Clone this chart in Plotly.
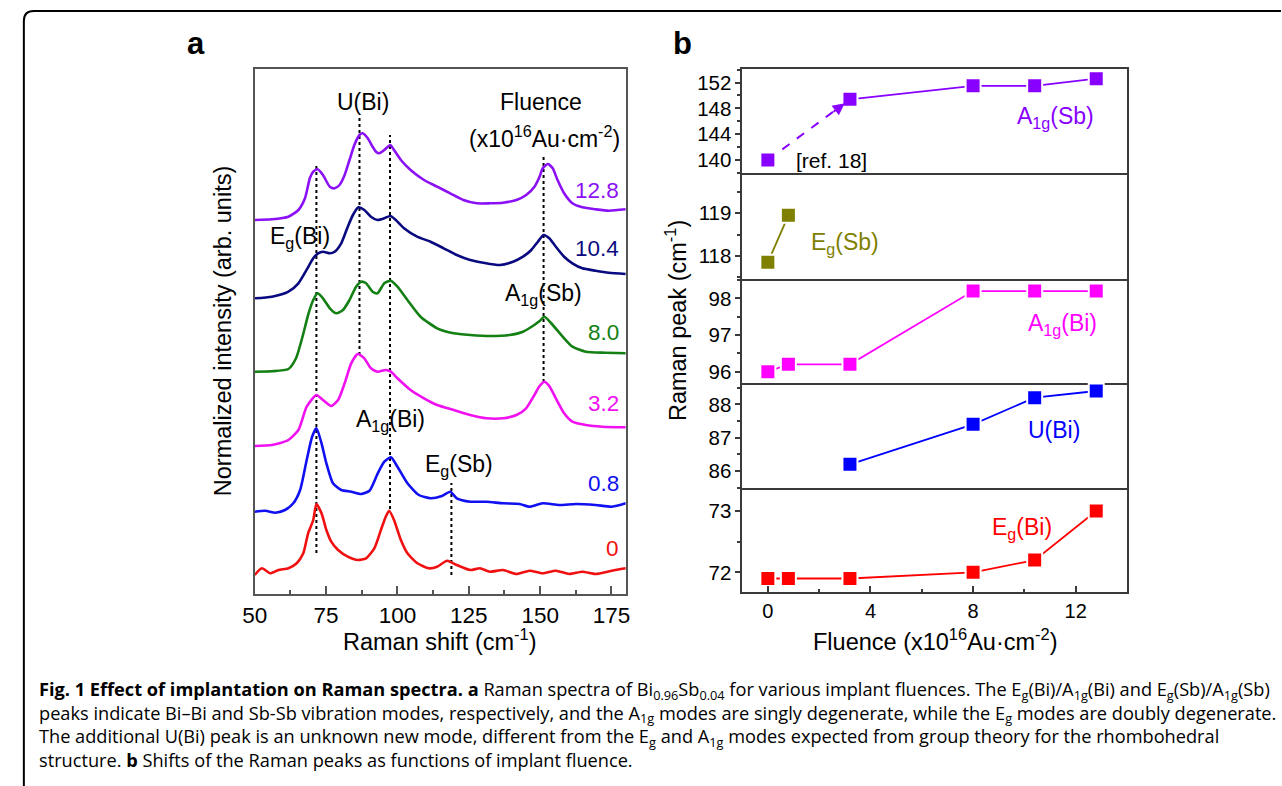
import plotly.graph_objects as go

W, H = 1282, 786

# ---------------- Panel a: Raman spectra, stacked by fluence ----------------
fluence_labels = ["12.8", "10.4", "8.0", "3.2", "0.8", "0"]
spec_colors = ["#8B10F5", "#0A0A80", "#148014", "#F010F0", "#1010F0", "#F01010"]

shift_128 = [50.0, 56.0, 61.8, 65.3, 67.6, 69.3, 70.5, 72.0, 73.9, 76.3, 78.0, 79.7, 81.5, 83.2, 84.9,
             86.7, 87.8, 89.6, 91.3, 92.5, 93.6, 95.4, 97.5, 98.8, 101.2, 104.6, 109.3, 113.9, 118.5,
             123.1, 127.8, 132.4, 137.0, 141.7, 145.1, 148.0, 149.8, 150.9, 152.7, 154.4, 156.1, 158.4,
             161.3, 164.8, 169.4, 174.1, 180.0]
inten_128 = [374.0, 374.7, 377.3, 384.0, 395.7, 415.7, 422.3, 424.7, 419.0, 407.3, 405.7, 409.0, 419.0,
             434.0, 449.0, 459.0, 460.7, 455.7, 447.3, 442.3, 440.7, 444.0, 449.0, 444.0, 434.0, 424.0,
             414.0, 407.3, 400.7, 394.0, 390.7, 390.7, 391.3, 394.0, 399.0, 407.3, 417.3, 425.7, 430.0,
             425.7, 414.0, 400.7, 390.7, 386.7, 384.7, 383.3, 384.7]

shift_104 = [50.0, 56.0, 61.8, 65.3, 68.2, 70.5, 72.2, 73.9, 76.3, 78.0, 80.3, 82.6, 84.4, 86.3, 88.4,
             90.7, 93.0, 95.4, 97.5, 99.4, 102.3, 106.9, 111.6, 116.2, 120.8, 125.5, 130.1, 135.9, 140.5,
             144.0, 146.9, 149.2, 151.2, 153.2, 155.5, 158.4, 161.3, 164.8, 169.4, 174.1, 180.0]
inten_104 = [295.7, 297.3, 302.3, 310.7, 324.3, 335.7, 340.7, 342.3, 340.7, 342.3, 350.7, 367.3, 379.0,
             386.7, 384.0, 377.3, 374.0, 375.7, 378.0, 374.0, 365.7, 357.3, 352.3, 345.7, 339.0, 334.0,
             331.3, 329.0, 332.3, 337.3, 344.0, 352.3, 359.0, 355.7, 347.3, 337.3, 330.7, 325.7, 323.3,
             321.3, 320.0]

shift_80 = [50.0, 56.0, 61.8, 64.5, 66.8, 68.8, 70.5, 72.0, 73.9, 76.3, 78.6, 80.9, 83.2, 85.5, 87.3,
            89.0, 91.3, 93.0, 95.4, 97.7, 100.0, 103.5, 108.1, 113.9, 119.7, 125.5, 132.4, 139.3, 144.0,
            147.4, 149.8, 151.5, 154.4, 157.9, 161.3, 166.0, 172.9, 180.0]
inten_80 = [222.3, 222.7, 225.0, 236.0, 258.0, 280.0, 294.0, 300.7, 295.7, 285.7, 280.7, 284.0, 294.0,
            307.3, 312.3, 310.7, 302.3, 300.7, 310.7, 313.3, 307.3, 294.0, 277.3, 265.7, 260.7, 259.0,
            258.0, 259.0, 262.3, 268.0, 273.0, 277.3, 269.0, 257.3, 247.3, 242.3, 241.3, 240.7]

shift_32 = [50.0, 56.0, 61.8, 65.3, 68.2, 71.6, 73.9, 76.8, 79.2, 81.5, 83.8, 86.1, 88.4, 90.7, 93.0,
            95.9, 97.7, 100.0, 104.6, 109.3, 113.9, 119.7, 125.5, 131.2, 137.0, 141.7, 145.1, 148.0,
            149.8, 151.5, 153.2, 155.5, 158.4, 161.3, 166.0, 171.8, 180.0]
inten_32 = [148.0, 149.0, 154.0, 164.0, 187.3, 199.0, 194.0, 188.0, 194.0, 210.7, 230.7, 240.0, 235.7,
            225.7, 222.3, 224.0, 222.3, 215.7, 204.0, 195.7, 189.0, 184.0, 179.0, 175.7, 175.7, 179.0,
            185.7, 199.0, 208.0, 212.3, 208.0, 195.7, 180.7, 172.3, 169.0, 167.3, 166.7]

shift_08 = [50.0, 53.7, 57.2, 60.6, 63.5, 65.9, 68.2, 70.1, 71.6, 73.4, 75.1, 77.4, 80.3, 83.8, 87.3,
            90.2, 93.1, 95.4, 97.7, 100.0, 103.5, 107.5, 111.6, 115.6, 118.5, 120.8, 125.5, 131.2, 137.0,
            142.8, 146.3, 150.9, 156.7, 162.5, 169.4, 175.2, 180.0]
inten_08 = [82.3, 83.3, 81.3, 84.0, 90.7, 104.0, 134.0, 157.3, 165.7, 150.7, 130.7, 110.7, 104.0, 102.3,
            100.0, 103.3, 120.7, 132.3, 136.7, 127.3, 110.7, 99.0, 95.7, 98.0, 102.3, 95.7, 92.3, 92.3,
            90.7, 90.0, 87.3, 90.7, 89.0, 90.0, 89.0, 87.3, 90.7]

shift_0 = [50.0, 52.5, 55.4, 58.3, 61.8, 64.7, 67.0, 68.7, 70.5, 71.6, 73.4, 75.1, 76.8, 79.2, 82.6,
           86.1, 89.0, 91.9, 94.2, 95.9, 97.1, 98.8, 101.2, 103.5, 107.0, 111.0, 113.9, 117.4, 120.8,
           125.5, 128.9, 132.4, 137.0, 141.7, 146.3, 150.9, 155.5, 160.2, 164.8, 169.4, 175.2, 180.0]
inten_0 = [19.0, 25.7, 20.7, 24.0, 25.7, 30.7, 40.7, 60.7, 74.0, 90.0, 80.7, 64.0, 52.3, 44.0, 37.3,
           34.0, 35.7, 45.7, 64.0, 77.3, 83.3, 74.0, 54.0, 40.7, 30.7, 25.7, 27.3, 33.3, 29.0, 24.0,
           25.7, 22.3, 24.0, 20.0, 23.3, 20.7, 23.3, 20.0, 22.3, 20.0, 23.3, 25.7]

spectra_x = [shift_128, shift_104, shift_80, shift_32, shift_08, shift_0]
spectra_y = [inten_128, inten_104, inten_80, inten_32, inten_08, inten_0]
label_y = [404, 346, 262, 191, 111, 46]

# peak guide lines: position and vertical extent
guide_pos = [71.6, 86.7, 97.4, 118.9, 151.2]
guide_lo = [41, 239, 85, 19, 212]
guide_hi = [431, 477, 459, 111, 437]

# ---------------- Panel b: peak positions vs fluence ----------------
fluence = [0, 0.8, 3.2, 8.0, 10.4, 12.8]
a1g_sb = [140.0, None, 149.4, 151.5, 151.5, 152.6]
eg_sb = [117.85, 118.95, None, None, None, None]
a1g_bi = [96.0, 96.2, 96.2, 98.2, 98.2, 98.2]
u_bi = [None, None, 86.2, 87.4, 88.2, 88.4]
eg_bi = [71.9, 71.9, 71.9, 72.0, 72.2, 73.0]

FONT = "Liberation Sans, Arial, sans-serif"
AX = "#555555"
TITLE = 23.5

fig = go.Figure()

# ---- panel a traces ----
for i in range(len(guide_pos)):
    fig.add_trace(go.Scatter(x=[guide_pos[i], guide_pos[i]], y=[guide_lo[i], guide_hi[i]],
                             mode="lines", line=dict(color="black", width=2, dash="dot"),
                             xaxis="x", yaxis="y", showlegend=False, hoverinfo="skip"))
for xs, ys, c in zip(spectra_x, spectra_y, spec_colors):
    fig.add_trace(go.Scatter(x=xs, y=ys, mode="lines",
                             line=dict(color=c, width=2.6, shape="spline", smoothing=0.6),
                             xaxis="x", yaxis="y", showlegend=False))

# ---- panel b traces ----
c_a1g_sb, c_eg_sb, c_a1g_bi, c_u_bi, c_eg_bi = "#8800FF", "#808000", "#FF00FF", "#0000FF", "#FF0000"


def pairs(vals):
    xs = [f for f, v in zip(fluence, vals) if v is not None]
    ys = [v for v in vals if v is not None]
    return xs, ys


series = [(a1g_sb, c_a1g_sb, "y2"), (eg_sb, c_eg_sb, "y3"), (a1g_bi, c_a1g_bi, "y4"),
          (u_bi, c_u_bi, "y5"), (eg_bi, c_eg_bi, "y6")]
xa = {"y2": "x2", "y3": "x3", "y4": "x4", "y5": "x5", "y6": "x6"}

for vals, col, ya in series:
    xs, ys = pairs(vals)
    if ya == "y2":
        # literature value joined by dashed line, then measured points
        fig.add_trace(go.Scatter(x=xs[:2], y=ys[:2], mode="lines",
                                 line=dict(color=col, width=2, dash="dash"),
                                 xaxis=xa[ya], yaxis=ya, showlegend=False))
        lx, ly = xs[1:], ys[1:]
    else:
        lx, ly = xs, ys
    fig.add_trace(go.Scatter(x=lx, y=ly, mode="lines", line=dict(color=col, width=1.8),
                             xaxis=xa[ya], yaxis=ya, showlegend=False))
    fig.add_trace(go.Scatter(x=xs, y=ys, mode="markers",
                             marker=dict(symbol="square", size=15, color=col,
                                         line=dict(color="white", width=2)),
                             xaxis=xa[ya], yaxis=ya, showlegend=False))

# ---- axes ----
def px_x(p):
    return p / W


def px_y(p):
    return 1 - p / H


layout = dict(
    width=W, height=H, autosize=False, margin=dict(l=0, r=0, t=0, b=0),
    paper_bgcolor="white", plot_bgcolor="white", showlegend=False,
    font=dict(family=FONT, color="black", size=20),
)

layout["xaxis"] = dict(domain=[px_x(245), px_x(621)], range=[50, 180], anchor="y",
                       tickvals=[50, 75, 100, 125, 150, 175], ticks="inside", ticklen=8, tickwidth=1.5,
                       tickcolor=AX, minor=dict(dtick=12.5, ticks="inside", ticklen=4, tickwidth=1.5,
                                                tickcolor=AX, tick0=50),
                       showline=True, linecolor=AX, linewidth=1.5, mirror=True, showgrid=False,
                       zeroline=False, tickfont=dict(size=22.5, family=FONT, color="black"))
layout["yaxis"] = dict(domain=[px_y(594), px_y(69)], range=[0, 525], anchor="x",
                       showticklabels=False, ticks="", showline=True, linecolor=AX, linewidth=1.5,
                       mirror=True, showgrid=False, zeroline=False)

b_bounds = [69, 173, 279, 383, 488, 592]
y_ranges = [[138.0, 154.1], [117.46, 119.94], [95.69, 98.53], [85.49, 88.64], [71.68, 73.375]]
y_dticks = [4, 1, 1, 1, 1]
y_minor = [2, 0.5, 0.5, 0.5, 0.5]
BX = "#3a3a3a"
for k in range(5):
    n = k + 2
    last = (k == 4)
    layout[f"xaxis{n}"] = dict(domain=[px_x(739), px_x(1129)], range=[-1, 14], anchor=f"y{n}",
                               showline=True, linecolor=BX, linewidth=1.5, mirror=(k == 0),
                               showgrid=False, zeroline=False,
                               showticklabels=last,
                               tickvals=[0, 4, 8, 12] if last else [],
                               ticks="inside" if last else "", ticklen=6, tickwidth=1.5, tickcolor=BX,
                               minor=dict(tickvals=[2, 6, 10], ticks="inside", ticklen=3,
                                          tickwidth=1.5, tickcolor=BX) if last else dict(ticks=""),
                               tickfont=dict(size=20, family=FONT, color="black"))
    layout[f"yaxis{n}"] = dict(domain=[px_y(b_bounds[k + 1]), px_y(b_bounds[k])], range=y_ranges[k],
                               anchor=f"x{n}", dtick=y_dticks[k], ticks="outside", ticklen=5,
                               tickwidth=1.5, tickcolor=BX,
                               minor=dict(dtick=y_minor[k], ticks="outside", ticklen=3, tickwidth=1.5,
                                          tickcolor=BX),
                               showline=True, linecolor=BX, linewidth=1.5, mirror=True,
                               showgrid=False, zeroline=False,
                               tickfont=dict(size=20.5, family=FONT, color="black"))

fig.update_layout(**layout)

ann = []


def add_text(text, x, y, xref="paper", yref="paper", size=23, color="black", xanchor="center",
             yanchor="middle", angle=0, fam=FONT, align="center"):
    ann.append(dict(text=text, x=x, y=y, xref=xref, yref=yref, showarrow=False,
                    font=dict(size=size, color=color, family=fam), xanchor=xanchor,
                    yanchor=yanchor, textangle=angle, align=align))


# panel letters
add_text("<b>a</b>", px_x(185), px_y(44), size=31)
add_text("<b>b</b>", px_x(679), px_y(44), size=31)

# panel a titles
add_text("Normalized intensity (arb. units)", px_x(213), px_y(331), size=TITLE, angle=-90)
add_text("Raman shift (cm<sup>-1</sup>)", px_x(433), px_y(640), size=TITLE)

# panel a labels
add_text("U(Bi)", 87.8, 492, "x", "y")
add_text("Fluence", 150.3, 492, "x", "y")
add_text("(x10<sup>16</sup>Au·cm<sup>-2</sup>)", 151.4, 457, "x", "y")
add_text("E<sub>g</sub>(Bi)", 66.0, 357, "x", "y")
add_text("A<sub>1g</sub>(Sb)", 151.0, 300, "x", "y")
add_text("A<sub>1g</sub>(Bi)", 97.6, 174, "x", "y")
add_text("E<sub>g</sub>(Sb)", 121.5, 129, "x", "y")
for lab, ly, c in zip(fluence_labels, label_y, spec_colors):
    add_text(lab, 178.2, ly, "x", "y", size=22.5, color=c, xanchor="right")

# panel b titles
add_text("Raman peak (cm<sup>-1</sup>)", px_x(672), px_y(321), size=TITLE, angle=-90)
add_text("Fluence (x10<sup>16</sup>Au·cm<sup>-2</sup>)", px_x(935), px_y(640), size=TITLE)

# panel b labels
add_text("A<sub>1g</sub>(Sb)", 11.2, 146.6, "x2", "y2", color=c_a1g_sb)
add_text("[ref. 18]", 1.0, 140.0, "x2", "y2", size=21, xanchor="left")
add_text("E<sub>g</sub>(Sb)", 1.6, 118.3, "x3", "y3", color=c_eg_sb, xanchor="left")
add_text("A<sub>1g</sub>(Bi)", 11.5, 97.3, "x4", "y4", color=c_a1g_bi)
add_text("U(Bi)", 11.15, 87.23, "x5", "y5", color=c_u_bi)
add_text("E<sub>g</sub>(Bi)", 9.9, 72.72, "x6", "y6", color=c_eg_bi)

# arrowhead on the dashed literature link
ann.append(dict(x=3.0, y=148.8, ax=2.5, ay=147.3, xref="x2", yref="y2", axref="x2", ayref="y2",
                showarrow=True, arrowhead=2, arrowsize=1.2, arrowwidth=2, arrowcolor=c_a1g_sb,
                text=""))

# caption (one block, four lines)
CAP = "Open Sans, Noto Sans, sans-serif"
cap_lines = [
    "<b>Fig. 1 Effect of implantation on Raman spectra. a</b> Raman spectra of Bi<sub>0.96</sub>Sb<sub>0.04</sub>"
    " for various implant fluences. The E<sub>g</sub>(Bi)/A<sub>1g</sub>(Bi) and E<sub>g</sub>(Sb)/A<sub>1g</sub>(Sb)",
    "peaks indicate Bi–Bi and Sb-Sb vibration modes, respectively, and the A<sub>1g</sub> modes are singly"
    " degenerate, while the E<sub>g</sub> modes are doubly degenerate.",
    "The additional U(Bi) peak is an unknown new mode, different from the E<sub>g</sub> and A<sub>1g</sub>"
    " modes expected from group theory for the rhombohedral",
    "structure. <b>b</b> Shifts of the Raman peaks as functions of implant fluence.",
]
add_text("<br>".join(cap_lines), px_x(24), px_y(724), size=18.2, xanchor="left", fam=CAP,
         align="left")

fig.update_layout(annotations=ann)

# rounded frame around the figure
fig.add_shape(type="path", xref="paper", yref="paper",
              path=(f"M {px_x(11)},{px_y(790)} L {px_x(11)},{px_y(21)} "
                    f"Q {px_x(11)},{px_y(11)} {px_x(21)},{px_y(11)} L {px_x(1285)},{px_y(11)}"),
              line=dict(color="black", width=2))

fig.write_html("out.html")
